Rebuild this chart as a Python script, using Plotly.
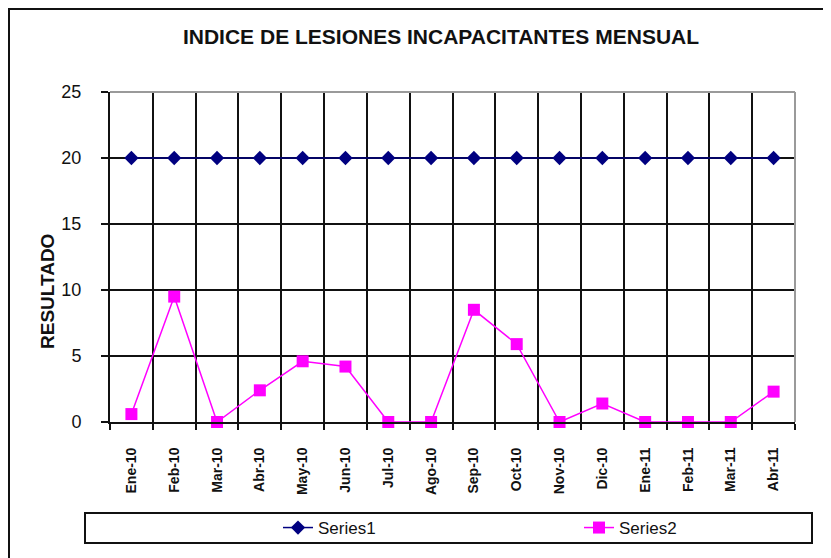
import plotly.graph_objects as go

months = ["Ene-10", "Feb-10", "Mar-10", "Abr-10", "May-10", "Jun-10", "Jul-10", "Ago-10",
          "Sep-10", "Oct-10", "Nov-10", "Dic-10", "Ene-11", "Feb-11", "Mar-11", "Abr-11"]
series1 = [20, 20, 20, 20, 20, 20, 20, 20, 20, 20, 20, 20, 20, 20, 20, 20]
series2 = [0.6, 9.5, 0, 2.4, 4.6, 4.2, 0, 0, 8.5, 5.9, 0, 1.4, 0, 0, 0, 2.3]
y_ticks = [0, 5, 10, 15, 20, 25]

OFF = 8  # page body margin
W, H = 831 - OFF, 558 - OFF
L, T = 110 - OFF, 92 - OFF
R = W - (795 - OFF)
B = H - (422 - OFF)
pw, ph = W - L - R, H - T - B


def px(x):
    return (x - OFF - L) / pw


def py(y):
    return (H - B - (y - OFF)) / ph


fig = go.Figure()
fig.add_trace(go.Scatter(
    x=months, y=series1, name="Series1", mode="lines+markers",
    line=dict(color="#000080", width=1.5),
    marker=dict(symbol="diamond", size=11, color="#000080"),
    cliponaxis=False))
fig.add_trace(go.Scatter(
    x=months, y=series2, name="Series2", mode="lines+markers",
    line=dict(color="#FF00FF", width=1.5),
    marker=dict(symbol="square", size=12, color="#FF00FF"),
    cliponaxis=False))

shapes = [
    dict(type="rect", xref="paper", yref="paper", x0=px(9), x1=px(845), y0=py(570), y1=py(9),
         line=dict(color="#111", width=2), layer="below"),
    dict(type="line", xref="paper", yref="paper", x0=0, x1=1, y0=1, y1=1,
         line=dict(color="#9a9a9a", width=2), layer="above"),
    dict(type="line", xref="paper", yref="paper", x0=1, x1=1, y0=0, y1=1,
         line=dict(color="#9a9a9a", width=2), layer="above"),
    dict(type="rect", xref="paper", yref="paper", x0=px(85), x1=px(812), y0=py(543), y1=py(513),
         line=dict(color="#111", width=2)),
]

fig.update_layout(
    width=W, height=H,
    margin=dict(l=L, r=R, t=T, b=B, autoexpand=False),
    paper_bgcolor="white", plot_bgcolor="white",
    font=dict(family="Liberation Sans, Arial, sans-serif", color="#111"),
    title=dict(text="<b>INDICE DE LESIONES INCAPACITANTES MENSUAL</b>",
               x=(441 - OFF) / W, xanchor="center", y=1 - (37 - OFF) / H, yanchor="middle",
               font=dict(size=21, color="#111")),
    showlegend=True,
    legend=dict(orientation="h", x=px(278), xanchor="left", y=py(528), yanchor="middle",
                font=dict(size=17), entrywidth=256, entrywidthmode="pixels",
                bgcolor="rgba(0,0,0,0)", borderwidth=0),
    shapes=shapes,
    annotations=[dict(text="<b>RESULTADO</b>", xref="paper", yref="paper",
                      x=px(47), y=py(292), textangle=-90, showarrow=False,
                      xanchor="center", yanchor="middle", font=dict(size=19, color="#111"))],
)

fig.update_xaxes(
    type="category", range=[-0.5, 15.5], tickson="boundaries",
    showgrid=True, gridcolor="#111", gridwidth=2,
    showline=True, linecolor="#111", linewidth=2,
    ticks="outside", ticklen=6, tickwidth=2, tickcolor="#111",
    tickangle=-90, tickfont=dict(size=14, family="Liberation Sans, Arial", color="#111", weight="bold"),
    ticklabelstandoff=18)
fig.update_yaxes(
    range=[0, 25], tickvals=y_ticks, ticktext=[str(v) for v in y_ticks],
    showgrid=True, gridcolor="#111", gridwidth=2, zeroline=False,
    showline=True, linecolor="#111", linewidth=2,
    ticks="outside", ticklen=7, tickwidth=2, tickcolor="#111",
    tickfont=dict(size=18, color="#111"), ticklabelstandoff=16)

fig.update_traces(hoverinfo="skip")
fig.write_html("out.html")
